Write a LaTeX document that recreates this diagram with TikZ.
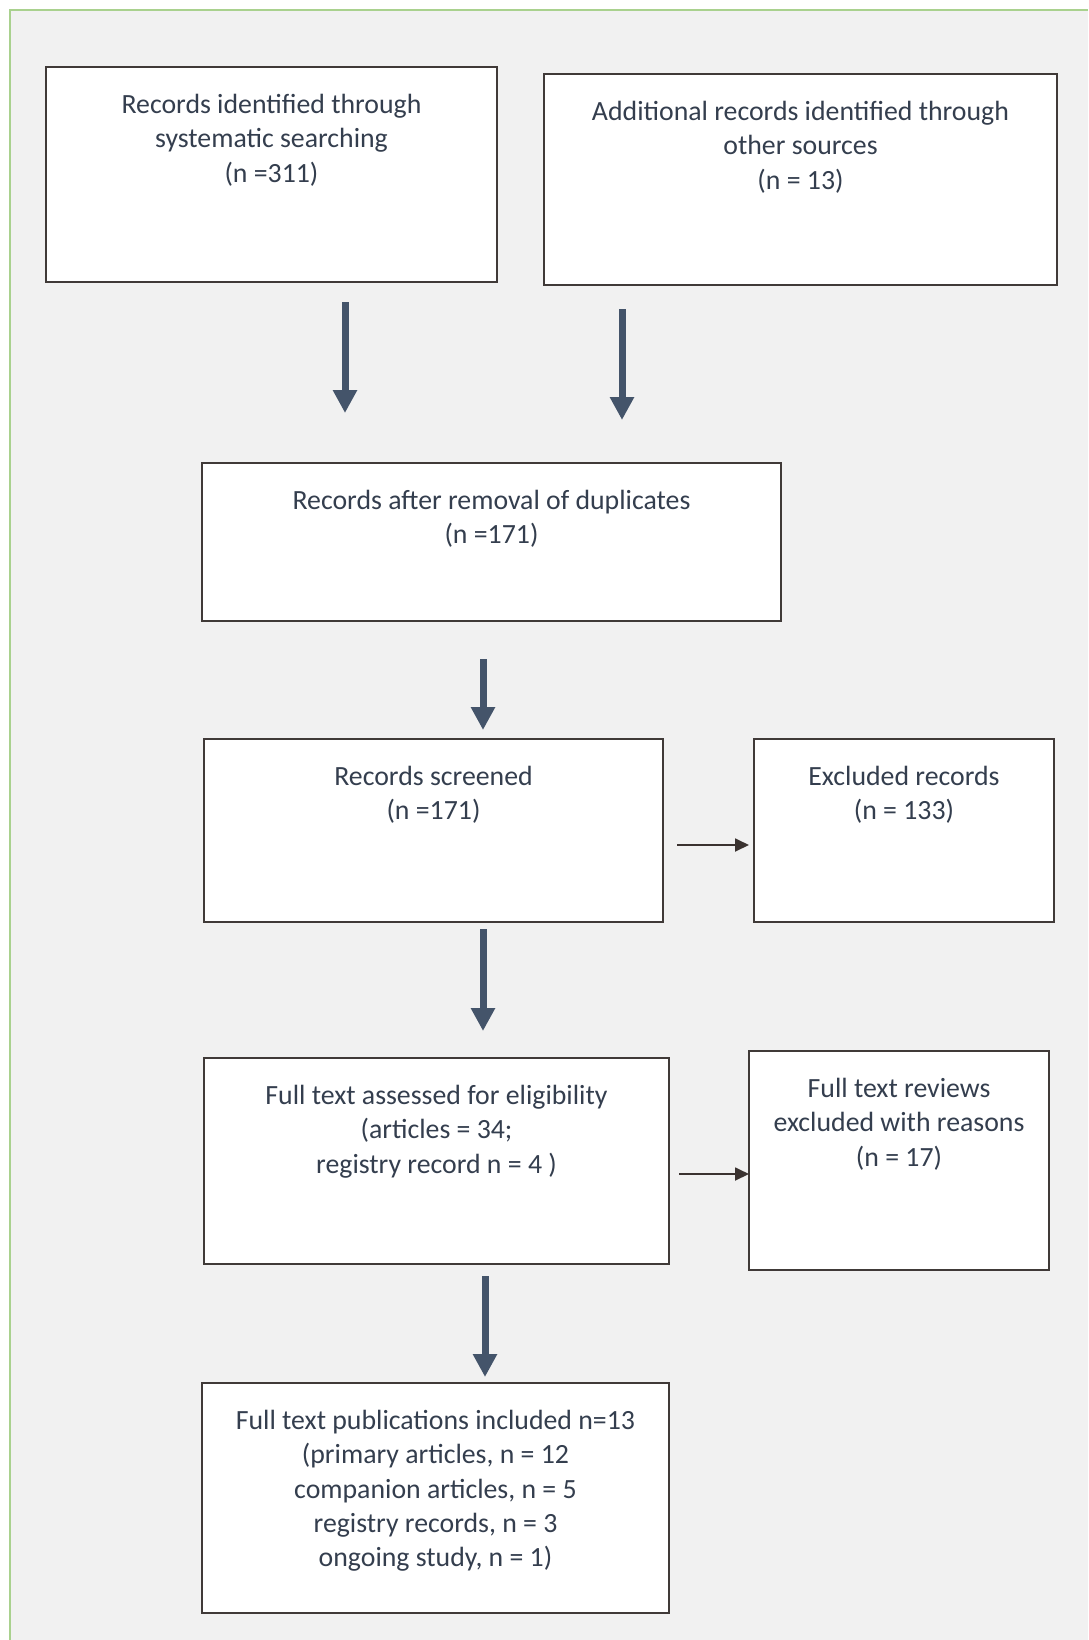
\documentclass[tikz,border=0pt]{standalone}
\usepackage{fontspec}
\setmainfont{Carlito}
\usetikzlibrary{arrows.meta}
\definecolor{bggray}{HTML}{F1F1F1}
\definecolor{framegreen}{HTML}{A9D18E}
\definecolor{boxline}{HTML}{403A38}
\definecolor{txt}{HTML}{343E4E}
\definecolor{bigarrow}{HTML}{44546A}
\definecolor{thinarrow}{HTML}{3A3230}
\tikzset{
  boxnode/.style={draw=boxline, line width=1.8pt, fill=white, rectangle, inner sep=0pt},
  boxtext/.style={anchor=north, inner sep=0pt, align=center, text=txt, font=\fontsize{27.8}{34.2}\selectfont},
  bigarr/.style={draw=bigarrow, line width=7pt, -{Triangle[length=23pt,width=23pt]}, color=bigarrow},
  thinarr/.style={draw=thinarrow, line width=1.8pt, -{Triangle[length=14pt,width=13pt]}, color=thinarrow},
}
\begin{document}
\begin{tikzpicture}[x=1pt,y=-1pt]
\useasboundingbox (0,0) rectangle (1088,1640);
\fill[white] (0,0) rectangle (1088,1640);
\fill[bggray] (10,10) rectangle (1088,1640);
\draw[framegreen, line width=2.2pt] (10,1640) -- (10,10) -- (1088,10);

\node[boxnode, minimum width=451pt, minimum height=215pt] (b1) at (271.5,174.5) {};
\node[boxnode, minimum width=513pt, minimum height=211pt] (b2) at (800.5,179.5) {};
\node[boxnode, minimum width=579pt, minimum height=158pt] (b3) at (491.5,542) {};
\node[boxnode, minimum width=459pt, minimum height=183pt] (b4) at (433.5,830.5) {};
\node[boxnode, minimum width=300pt, minimum height=183pt] (b5) at (904,830.5) {};
\node[boxnode, minimum width=465pt, minimum height=206pt] (b6) at (436.5,1161) {};
\node[boxnode, minimum width=300pt, minimum height=219pt] (b7) at (899,1160.5) {};
\node[boxnode, minimum width=467pt, minimum height=230pt] (b8) at (435.5,1498) {};

\node[boxtext] (t1) at ([yshift=-28pt]b1.north) {Records identified through\\systematic searching\\(n =311)};
\node[boxtext] (t2) at ([yshift=-28pt]b2.north) {Additional records identified through\\other sources\\(n = 13)};
\node[boxtext] (t3) at ([yshift=-28pt]b3.north) {Records after removal of duplicates\\(n =171)};
\node[boxtext] (t4) at ([yshift=-28pt]b4.north) {Records screened\\(n =171)};
\node[boxtext] (t5) at ([yshift=-28pt]b5.north) {Excluded records\\(n = 133)};
\node[boxtext] (t6) at ([yshift=-28pt]b6.north) {Full text assessed for eligibility\\(articles = 34;\\registry record n = 4 )};
\node[boxtext] (t7) at ([yshift=-28pt]b7.north) {Full text reviews\\excluded with reasons\\(n = 17)};
\node[boxtext] (t8) at ([yshift=-28pt]b8.north) {Full text publications included n=13\\(primary articles, n = 12\\companion articles, n = 5\\registry records, n = 3\\ongoing study, n = 1)};

\coordinate (a1s) at (345,302); \coordinate (a1e) at (345,413);
\coordinate (a2s) at (622,309); \coordinate (a2e) at (622,420);
\coordinate (a3s) at (483,659); \coordinate (a3e) at (483,730);
\coordinate (a4s) at (483,929); \coordinate (a4e) at (483,1031);
\coordinate (a5s) at (485,1276); \coordinate (a5e) at (485,1377);
\coordinate (s1s) at (677,845); \coordinate (s1e) at (749,845);
\coordinate (s2s) at (679,1174); \coordinate (s2e) at (749,1174);

\draw[bigarr] (a1s) -- (a1e);
\draw[bigarr] (a2s) -- (a2e);
\draw[bigarr] (a3s) -- (a3e);
\draw[bigarr] (a4s) -- (a4e);
\draw[bigarr] (a5s) -- (a5e);
\draw[thinarr] (s1s) -- (s1e);
\draw[thinarr] (s2s) -- (s2e);
\end{tikzpicture}
\end{document}
